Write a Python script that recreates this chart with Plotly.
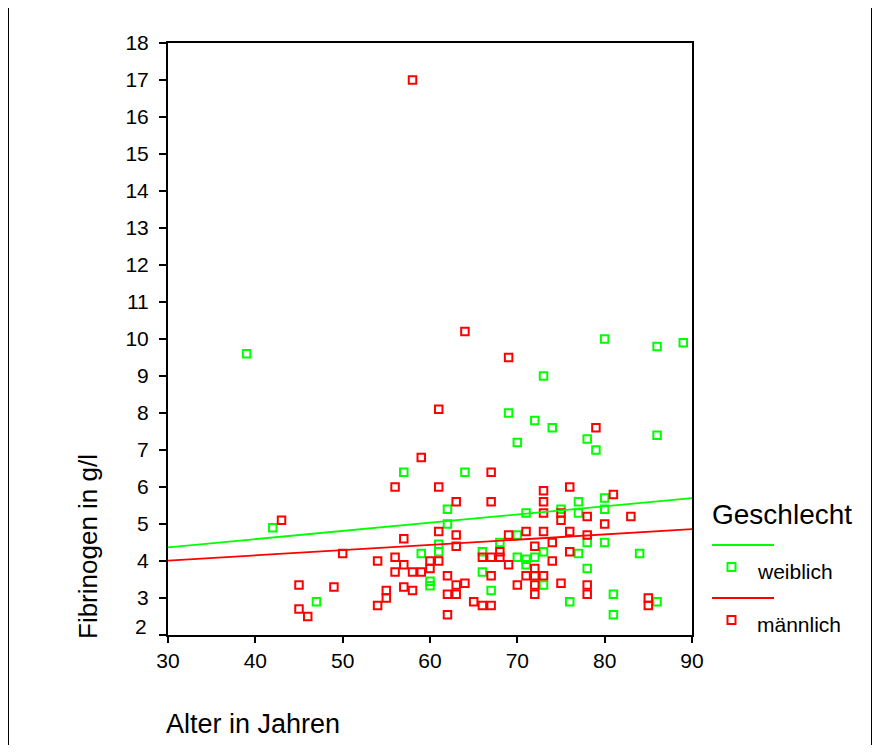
import plotly.graph_objects as go

# ---- data ----
female_age = [39, 42, 47, 57, 59, 60, 60, 61, 61, 62, 62, 64, 66, 66, 67, 68, 69, 70, 70, 70,
              71, 71, 71, 72, 72, 73, 73, 73, 74, 75, 76, 77, 77, 77, 78, 78, 78, 79, 80, 80,
              80, 80, 81, 81, 84, 86, 86, 86, 89]
female_fib = [9.6, 4.9, 2.9, 6.4, 4.2, 3.45, 3.33, 4.45, 4.25, 5.4, 5.0, 6.4, 4.25, 3.7, 3.2, 4.5, 8.0, 7.2, 4.7, 4.1,
              5.3, 4.05, 3.9, 7.8, 4.1, 9.0, 4.25, 3.35, 7.6, 5.4, 2.9, 5.6, 5.3, 4.2, 7.3, 4.5, 3.8, 7.0, 10.0, 5.7,
              5.4, 4.5, 3.1, 2.55, 4.2, 9.8, 7.4, 2.9, 9.9]

male_age = [43, 45, 45, 46, 49, 50, 54, 54, 55, 55, 56, 56, 56, 57, 57, 57, 58, 58, 58, 59,
            59, 60, 60, 61, 61, 61, 61, 62, 62, 62, 63, 63, 63, 63, 63, 64, 64, 65, 66, 66,
            67, 67, 67, 67, 67, 68, 68, 69, 69, 69, 70, 71, 71, 72, 72, 72, 72, 72, 73, 73,
            73, 73, 73, 74, 74, 75, 75, 75, 76, 76, 76, 78, 78, 78, 78, 79, 80, 81, 83, 85, 85]
male_fib = [5.1, 3.35, 2.7, 2.5, 3.3, 4.2, 4.0, 2.8, 3.2, 3.0, 6.0, 4.1, 3.7, 4.6, 3.9, 3.3, 17.0, 3.7, 3.2, 6.8,
            3.7, 4.0, 3.8, 8.1, 6.0, 4.8, 4.0, 3.6, 3.1, 2.55, 5.6, 4.7, 4.4, 3.35, 3.1, 10.2, 3.4, 2.9, 4.1, 2.8,
            6.4, 5.6, 4.1, 3.6, 2.8, 4.25, 4.1, 9.5, 4.7, 3.9, 3.35, 4.8, 3.6, 4.4, 3.8, 3.6, 3.35, 3.1, 5.9, 5.6,
            5.3, 4.8, 3.6, 4.5, 4.0, 5.3, 5.1, 3.4, 6.0, 4.8, 4.25, 5.2, 4.7, 3.35, 3.1, 7.6, 5.0, 5.8, 5.2, 3.0, 2.8]

# fit lines, end points
fit_x = [30, 90]
female_fit_y = [4.37, 5.70]
male_fit_y = [4.01, 4.86]

x_ticks = [30, 40, 50, 60, 70, 80, 90]
y_ticks = list(range(2, 19))

GREEN = "#00ff00"
RED = "#ff0000"
FONT = "Liberation Sans, Arial, sans-serif"

# page has an 8px body margin on every side; figure sized to fit inside the 880x753 window
OFF = 8
W, H = 880 - 2 * OFF, 753 - 2 * OFF
# plot area in screen pixels
L, R, T, B = 168, 692, 43, 635


def px(x):
    return (x - L) / (R - L)


def py(y):
    return (B - y) / (B - T)


fig = go.Figure()
fig.add_trace(go.Scatter(x=female_age, y=female_fib, mode="markers", name="weiblich",
                         marker=dict(symbol="square-open", size=7.5, color=GREEN, line=dict(width=2, color=GREEN))))
fig.add_trace(go.Scatter(x=male_age, y=male_fib, mode="markers", name="männlich",
                         marker=dict(symbol="square-open", size=7.5, color=RED, line=dict(width=2, color=RED))))
fig.add_trace(go.Scatter(x=fit_x, y=female_fit_y, mode="lines", line=dict(color=GREEN, width=1.8), showlegend=False))
fig.add_trace(go.Scatter(x=fit_x, y=male_fit_y, mode="lines", line=dict(color=RED, width=1.8), showlegend=False))

shapes = []
annotations = []

# outer frame lines
for xv in (8.5, 871.5):
    shapes.append(dict(type="line", xref="paper", yref="paper", x0=px(xv), x1=px(xv), y0=py(0), y1=py(760),
                       layer="above", line=dict(color="#000000", width=1)))

# legend
annotations.append(dict(text="Geschlecht", xref="paper", yref="paper", x=px(710), y=py(514),
                        xanchor="left", yanchor="middle", showarrow=False,
                        font=dict(family=FONT, size=28, color="#000")))
for ly, my, label, col in ((545, 567, "weiblich", GREEN), (598, 620, "männlich", RED)):
    shapes.append(dict(type="line", xref="paper", yref="paper", x0=px(712), x1=px(774), y0=py(ly), y1=py(ly),
                       line=dict(color=col, width=1.8)))
    shapes.append(dict(type="rect", xref="paper", yref="paper", x0=px(727.5), x1=px(735.5),
                       y0=py(my + 4), y1=py(my - 4), line=dict(color=col, width=2)))
    annotations.append(dict(text=label, xref="paper", yref="paper", x=px(755), y=py(my + 4),
                            xanchor="left", yanchor="middle", showarrow=False,
                            font=dict(family=FONT, size=21, color="#000")))

# axis titles
annotations.append(dict(text="Fibrinogen in g/l", xref="paper", yref="paper", x=px(88), y=py(547),
                        textangle=-90, xanchor="center", yanchor="middle", showarrow=False,
                        font=dict(family=FONT, size=26, color="#000")))
annotations.append(dict(text="Alter in Jahren", xref="paper", yref="paper", x=px(164), y=py(724),
                        xanchor="left", yanchor="middle", showarrow=False,
                        font=dict(family=FONT, size=27, color="#000")))
# bottom y tick label sits slightly above its tick
annotations.append(dict(text="2", xref="paper", yref="paper", x=px(149), y=py(626),
                        xanchor="right", yanchor="middle", showarrow=False,
                        font=dict(family=FONT, size=21, color="#000")))

fig.update_layout(
    width=W, height=H,
    margin=dict(l=L - OFF, r=(OFF + W) - R, t=T - OFF, b=(OFF + H) - B, pad=0),
    paper_bgcolor="white", plot_bgcolor="white",
    showlegend=False,
    font=dict(family=FONT, size=21, color="#000"),
    shapes=shapes, annotations=annotations,
    xaxis=dict(range=[30, 90], tickvals=x_ticks, ticktext=[str(v) for v in x_ticks],
               showgrid=False, zeroline=False, showline=True, linecolor="#000", linewidth=2, mirror=True,
               ticks="outside", ticklen=6, tickwidth=2, tickcolor="#000",
               tickfont=dict(family=FONT, size=21, color="#000")),
    yaxis=dict(range=[2, 18], tickvals=y_ticks, ticktext=["" if v == 2 else str(v) for v in y_ticks],
               showgrid=False, zeroline=False, showline=True, linecolor="#000", linewidth=2, mirror=True,
               ticks="outside", ticklen=7, tickwidth=2, tickcolor="#000", ticklabelstandoff=6,
               tickfont=dict(family=FONT, size=21, color="#000")),
)

fig.write_html("out.html")
